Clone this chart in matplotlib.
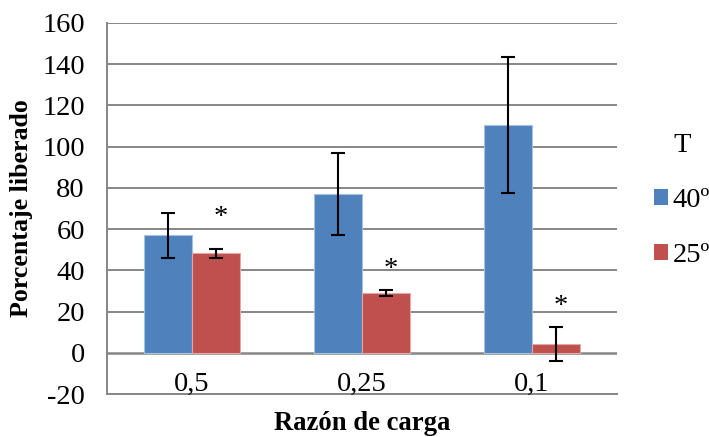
import matplotlib.pyplot as plt
import numpy as np

categories = ["0,5", "0,25", "0,1"]
series_names = ["40º", "25º"]
values_40 = [57.0, 77.0, 110.5]
errors_40 = [11.0, 20.0, 33.0]
values_25 = [48.2, 29.0, 4.2]
errors_25 = [2.2, 1.5, 8.4]
significance = ["*", "*", "*"]
significance_y = [65.5, 40.5, 22.5]
yticks = [-20, 0, 20, 40, 60, 80, 100, 120, 140, 160]

plt.rcParams['font.family'] = ['Liberation Serif', 'DejaVu Serif']

fig = plt.figure(figsize=(7.09, 4.37), dpi=100)
ax = fig.add_axes([107 / 709, 1 - 394 / 437, (617 - 107) / 709, (394 - 23) / 437])

blue = "#4F81BD"
red = "#C0504D"
grid = "#868686"
fs = 20.5

x = np.arange(len(categories))
w = 0.283

ax.set_xlim(-0.5, len(categories) - 0.5)
ax.set_ylim(-20, 160)

for yv in yticks:
    ax.axhline(yv, color=grid, lw=1.4 if yv != 0 else 1.8, zorder=0)

ax.bar(x - w / 2, values_40, w, color=blue, edgecolor="#A7C0DE", linewidth=0.8,
       label=series_names[0], zorder=2)
ax.bar(x + w / 2, values_25, w, color=red, edgecolor="#E0A9A7", linewidth=0.8,
       label=series_names[1], zorder=2)
ax.errorbar(x - w / 2, values_40, yerr=errors_40, fmt="none", ecolor="black",
            elinewidth=1.5, capsize=5, capthick=1.5, zorder=3)
ax.errorbar(x + w / 2, values_25, yerr=errors_25, fmt="none", ecolor="black",
            elinewidth=1.5, capsize=5, capthick=1.5, zorder=3)

for xi, yy, s in zip(x, significance_y, significance):
    ax.text(xi + w / 2 + 0.03, yy, s, ha="center", va="center",
            fontsize=fs, zorder=1)

for sp in ["top", "right"]:
    ax.spines[sp].set_visible(False)
ax.spines["left"].set_color(grid)
ax.spines["left"].set_linewidth(1.4)
ax.spines["bottom"].set_color(grid)
ax.spines["bottom"].set_linewidth(1.4)

ax.set_yticks(yticks)
ax.set_yticklabels([str(t) for t in yticks], fontsize=fs)
ax.tick_params(axis="y", length=0, pad=16)
ax.set_xticks([])

for xi, c in zip(x, categories):
    ax.text(xi, -18.3, c, ha="center", va="baseline", fontsize=fs)

fig.text(22 / 709, 1 - 208 / 437, "Porcentaje liberado", rotation=90,
         ha="center", va="center", fontsize=18.6, fontweight="bold")
fig.text(362 / 709, 1 - 424 / 437, "Razón de carga", ha="center", va="center",
         fontsize=19.2, fontweight="bold")

leg = fig.legend(handles=ax.patches[:1] + ax.patches[3:4], labels=series_names,
                 loc="upper left", bbox_to_anchor=(654 / 709, 1 - 133 / 437),
                 frameon=False, fontsize=fs, handlelength=0.5, handleheight=0.5,
                 handletextpad=0.15, labelspacing=1.05, title="T",
                 title_fontsize=fs, borderpad=0, borderaxespad=0)
for h in leg.legend_handles:
    h.set_edgecolor("none")

fig.savefig("out.png", dpi=100)
